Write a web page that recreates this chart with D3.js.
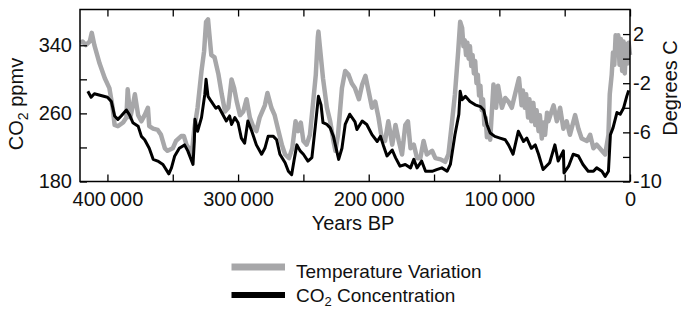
<!DOCTYPE html>
<html>
<head>
<meta charset="utf-8">
<script src="https://cdn.jsdelivr.net/npm/d3@7"></script>
<style>
  html, body { margin: 0; padding: 0; background: #fff; }
  svg { display: block; }
  text { font-family: "Liberation Sans", Arial, Helvetica, sans-serif; fill: #111; }
</style>
</head>
<body>
<svg id="chart" width="681" height="310"></svg>
<script>
// ---- Data ----
const co2Years = [415000,412500,410000,405000,400000,397000,394500,392000,389500,385500,383000,380500,376500,374000,371500,368000,365000,361500,357500,353000,351000,348500,345000,341000,338500,334500,333500,333000,331000,328000,325500,324500,323000,320500,317000,315000,311500,309000,306500,305000,302500,300000,297500,295000,292500,289500,286000,282000,279500,277000,273000,270500,268000,264000,261500,259000,257000,255000,252500,250000,246500,243500,241000,238500,236500,235000,232000,229500,227000,224500,223000,220500,218000,214500,210500,209000,205000,201500,197500,193500,191000,188500,186000,182000,179500,176000,172000,168000,165500,163000,159500,156500,151500,148000,144000,140000,137500,134000,131000,130000,128500,126000,122500,118500,114500,112000,109500,107000,103500,99500,95500,93000,89500,85500,81500,79000,75500,72500,70000,66500,61500,57500,55000,51000,50500,47000,43500,39500,36000,32000,28000,25500,21500,19000,16500,15000,13000,10000,7500,5000,2500,1000];
const co2Values = [286,279,283,281,279,274,257,253,257,264,258,249,245,233,229,219,206,204,200,189,196,210,219,223,216,200,227,253,239,255,282,300,280,274,266,268,258,251,257,247,255,249,231,225,251,239,223,212,219,233,233,229,212,202,192,188,206,223,216,212,204,208,243,280,270,249,247,243,233,216,206,219,247,259,250,241,251,247,235,227,233,221,210,217,208,198,200,196,206,196,204,192,192,194,196,192,200,235,259,286,276,280,274,270,268,264,247,237,233,231,229,223,212,239,227,231,219,223,212,194,202,223,204,216,190,198,212,210,200,192,192,196,192,186,192,235,243,261,259,266,280,287];

const tempYears = [421000,419000,416500,413500,412000,410000,406000,402000,398500,396000,394500,392000,388000,385500,384500,382500,380500,379000,376500,374000,371500,369000,368000,365000,361500,359000,356000,354000,350000,347500,343500,341500,339500,337000,335500,333500,331000,328000,326000,324500,323000,322000,320500,318000,315000,312500,310000,307500,305000,303000,301000,298500,296000,293500,291000,288500,286000,283500,279500,277500,274500,272000,269500,266500,264000,261000,258500,256000,254000,252000,250000,247500,245000,242500,240500,239000,238500,237500,235000,232000,229500,227000,225500,223500,220500,218000,215500,213000,210500,207500,205000,202500,200000,197500,195000,192500,190000,187500,185000,182000,179500,177000,174500,172000,170000,168000,165500,163000,160500,158000,155500,151500,149000,145000,141500,139000,136500,134000,131500,130000,128500,127500,126500,125500,124500,123500,122500,121500,120500,119500,118500,117500,116500,115500,114500,113500,112500,111500,110500,109500,108000,107000,104500,102500,101000,98000,95500,93000,90500,88000,85000,83000,82000,80500,79500,78000,77000,75500,74000,72500,71500,70000,69000,67500,66500,65000,63500,62500,58500,56000,53500,51000,48500,46000,42000,39500,37000,33000,30500,28000,25500,21500,19000,16500,15500,14000,13000,12000,11000,10000,9000,8000,7000,6000,5000,4000,3000,2000,1000,0];
const tempValues = [1.3,1.4,1.1,1.4,2.1,1.1,-0.4,-1.6,-2.4,-4.0,-5.4,-5.5,-5.2,-4.8,-2.5,-4.8,-3.8,-2.9,-4.6,-5.1,-4.6,-4.0,-5.5,-5.7,-5.8,-6.2,-7.3,-7.5,-7.3,-6.7,-6.3,-6.3,-7.0,-7.4,-7.8,-5.7,-4.0,-1.0,0.6,3.0,3.2,2.0,0.3,0.1,-1.3,-2.9,-4.3,-4.0,-1.7,-2.4,-3.5,-4.6,-4.3,-3.3,-4.8,-5.5,-5.9,-4.8,-3.8,-2.8,-4.0,-4.6,-5.7,-7.0,-7.8,-8.1,-7.3,-5.1,-5.9,-5.2,-6.7,-7.0,-6.2,-3.5,-1.3,1.7,2.2,1.1,-1.6,-4.0,-5.1,-6.7,-7.5,-6.2,-2.4,-1.0,-1.3,-2.0,-2.4,-3.3,-2.1,-1.4,-2.7,-4.0,-3.5,-4.8,-6.5,-6.7,-5.1,-7.0,-5.4,-6.7,-7.8,-5.4,-5.1,-7.3,-7.0,-8.1,-8.1,-6.7,-7.8,-7.5,-8.1,-8.2,-8.4,-7.8,-5.4,-2.9,0.6,3.0,2.5,1.0,1.5,0.3,1.3,0.0,1.0,-0.6,0.3,-1.2,-0.2,-2.0,-1.3,-3.0,-2.2,-4.2,-3.3,-5.4,-4.8,-6.4,-5.8,-6.6,-2.1,-4.0,-2.2,-4.0,-3.2,-3.5,-4.0,-2.9,-1.6,-3.8,-2.6,-4.0,-2.9,-4.8,-3.3,-5.1,-3.6,-5.4,-4.2,-5.9,-4.6,-6.5,-5.2,-6.2,-4.4,-5.1,-3.8,-5.1,-4.0,-5.7,-5.1,-6.2,-4.6,-5.7,-6.5,-6.7,-6.2,-7.3,-7.0,-7.5,-7.8,-6.2,-2.9,-1.3,0.5,-0.5,1.9,0.3,1.9,-0.5,1.6,-1.0,1.4,-1.2,1.2,-0.4,1.3,0.3];

const xTicks = [400000,350000,300000,250000,200000,150000,100000,50000,0];
const xLabeled = [400000,300000,200000,100000,0];
const co2Ticks = [180,220,260,300,340];
const co2Labeled = [180,260,340];
const tempTicks = [-10,-8,-6,-4,-2,0,2];
const tempLabeled = [-10,-6,-2,2];
const seriesNames = ["Temperature Variation", "CO\u2082 Concentration"];

// ---- Layout ----
const L = 80, R = 630, T = 9.5, B = 181.5;
const svg = d3.select("#chart");

const x = d3.scaleLinear().domain([421000, 0]).range([L, R]);
const yC = d3.scaleLinear().domain([180, 382]).range([B, T]);
const yT = d3.scaleLinear().domain([-10, 4]).range([B, T]);

const fmtYear = d => d === 0 ? "0" : d3.format(",")(d).replace(/,/g, "\u2009");

const tempData = tempYears.map((y, i) => [y, tempValues[i]]);
const co2Data = co2Years.map((y, i) => [y, co2Values[i]]);

const g = svg.append("g");
g.append("path")
  .datum(tempData)
  .attr("fill", "none")
  .attr("stroke", "#a7a7a9")
  .attr("stroke-width", 4.5)
  .attr("stroke-linejoin", "round")
  .attr("d", d3.line().x(d => x(d[0])).y(d => yT(d[1])));

g.append("path")
  .datum(co2Data)
  .attr("fill", "none")
  .attr("stroke", "#000")
  .attr("stroke-width", 3)
  .attr("stroke-linejoin", "round")
  .attr("d", d3.line().x(d => x(d[0])).y(d => yC(d[1])));

// axes
const fontSize = 20;
function styleAxis(sel) {
  sel.select(".domain").remove();
  sel.selectAll(".tick line").attr("stroke", "#000").attr("stroke-width", 1.3);
  sel.selectAll(".tick text").attr("font-size", fontSize).attr("fill", "#111")
    .attr("font-family", "'Liberation Sans', Arial, sans-serif");
}

svg.append("g").attr("transform", `translate(${L},0)`)
  .call(d3.axisLeft(yC).tickValues(co2Ticks).tickSize(-7).tickPadding(8)
    .tickFormat(d => co2Labeled.includes(d) ? String(d) : ""))
  .call(styleAxis);

svg.append("g").attr("transform", `translate(${R},0)`)
  .call(d3.axisRight(yT).tickValues(tempTicks).tickSize(-7).tickPadding(3)
    .tickFormat(d => tempLabeled.includes(d) ? String(d) : ""))
  .call(styleAxis);

svg.append("g").attr("transform", `translate(0,${B})`)
  .call(d3.axisBottom(x).tickValues(xTicks).tickSize(-7).tickPadding(10)
    .tickFormat(d => xLabeled.includes(d) ? fmtYear(d) : ""))
  .call(styleAxis);

svg.append("g").attr("transform", `translate(0,${T})`)
  .call(d3.axisTop(x).tickValues(xTicks).tickSize(-7).tickFormat(""))
  .call(styleAxis);

// frame
svg.append("rect").attr("x", L).attr("y", T).attr("width", R - L).attr("height", B - T)
  .attr("fill", "none").attr("stroke", "#000").attr("stroke-width", 1.5);

// axis titles
svg.append("text").attr("x", 353).attr("y", 230).attr("text-anchor", "middle")
  .attr("font-size", fontSize).text("Years BP");

const co2Title = svg.append("text")
  .attr("transform", "translate(23,104) rotate(-90)")
  .attr("text-anchor", "middle").attr("font-size", fontSize);
co2Title.append("tspan").text("CO");
co2Title.append("tspan").attr("font-size", 14).attr("dy", 5).text("2");
co2Title.append("tspan").attr("dy", -5).text(" ppmv");

svg.append("text")
  .attr("transform", "translate(677,88) rotate(-90)")
  .attr("text-anchor", "middle").attr("font-size", fontSize).text("Degrees C");

// legend
const legendColors = ["#a7a7a9", "#000"];
const legendY = [267, 295];
const legendBase = [277.5, 302];
const lg = svg.append("g");
seriesNames.forEach((name, i) => {
  lg.append("line").attr("x1", 231.5).attr("x2", 285).attr("y1", legendY[i]).attr("y2", legendY[i])
    .attr("stroke", legendColors[i]).attr("stroke-width", i === 0 ? 7 : 6);
  const t = lg.append("text").attr("x", 296).attr("y", legendBase[i]).attr("font-size", 19);
  if (i === 1) {
    t.append("tspan").text("CO");
    t.append("tspan").attr("font-size", 13).attr("dy", 4).text("2");
    t.append("tspan").attr("dy", -4).text(" Concentration");
  } else {
    t.text(name);
  }
});
</script>
</body>
</html>
